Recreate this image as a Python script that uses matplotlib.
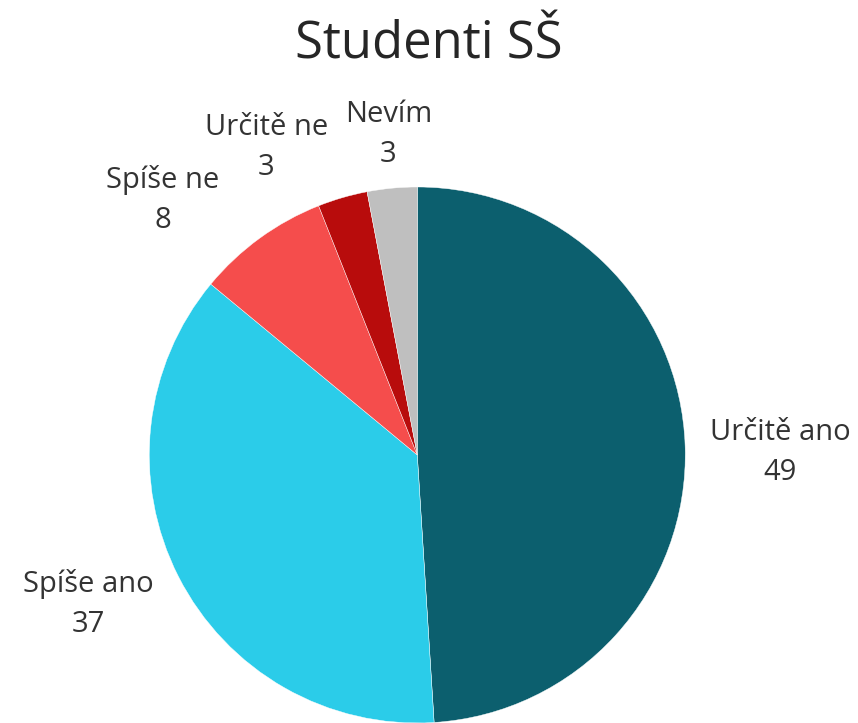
import matplotlib.pyplot as plt

plt.rcParams['font.family'] = ['Open Sans', 'DejaVu Sans']

labels = ["Určitě ano", "Spíše ano", "Spíše ne", "Určitě ne", "Nevím"]
values = [49, 37, 8, 3, 3]
colors = ["#0c5f6e", "#2bcce9", "#f54d4c", "#b80c0c", "#bfbfbf"]

# label positions in pie-radius units (centre of the two-line block)
label_pos = [(1.354, 0.01), (-1.228, -0.556), (-0.951, 0.951),
             (-0.563, 1.149), (-0.108, 1.194)]

fig = plt.figure(figsize=(8.58, 7.23), dpi=100)
ax = fig.add_axes([0.174, 0.0, 0.6247, 0.7414])
ax.pie(values, colors=colors, startangle=90, counterclock=False,
       wedgeprops=dict(linewidth=0.3, edgecolor="white"))
ax.set_xlim(-1, 1)
ax.set_ylim(-1, 1)
ax.set_aspect("equal")

for lab, val, (x, y) in zip(labels, values, label_pos):
    ax.text(x, y, f"{lab}\n{val}", ha="center", va="center", fontsize=21,
            color="#333333", linespacing=1.5, clip_on=False)

fig.text(0.5, 0.938, "Studenti SŠ", ha="center", va="center", fontsize=36.5,
         color="#262626")

fig.savefig("out.png", dpi=100)
